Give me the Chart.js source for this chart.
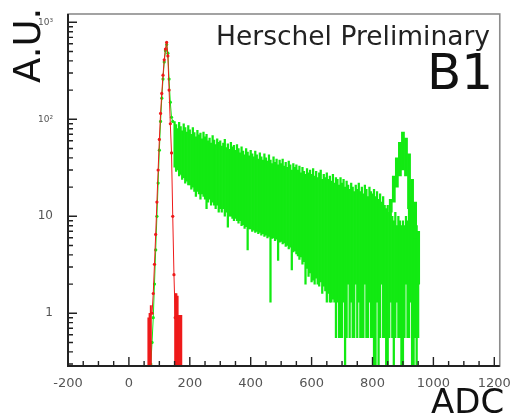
<!DOCTYPE html>
<html lang="en">
<head>
  <meta charset="UTF-8">
  <title>B1 ADC spectrum</title>
  <script src="https://cdn.jsdelivr.net/npm/chart.js"></script>
  <style>
    body { margin: 0; background: #fff; }
    #wrap { position: relative; width: 513px; height: 416px; overflow: hidden; }
    #wrap canvas { position: absolute; left: 0; top: 0; }
    .txt { position: absolute; font-family: "DejaVu Sans", sans-serif; white-space: nowrap; color: #111; }
    #yTitle { font-size: 37px; line-height: 37px; left: 9px; top: 83px; transform: rotate(-90deg); transform-origin: 0 0; }
    #xTitle { font-size: 34px; line-height: 34px; left: 431px; top: 384px; }
    #tag { font-size: 26.5px; line-height: 26.5px; left: 216px; top: 23px; color: #222; }
    #band { font-size: 50px; line-height: 50px; right: 20px; top: 47px; }
  </style>
</head>
<body>
<div id="wrap">
  <canvas id="spectrum" width="513" height="416"></canvas>
  <div class="txt" id="yTitle">A.U.</div>
  <div class="txt" id="xTitle">ADC</div>
  <div class="txt" id="tag">Herschel Preliminary</div>
  <div class="txt" id="band">B1</div>
</div>

<script>
  // green tail: 5 ADC bins, each drawn as the spread [low, high] over the pixels
  const tailBins = [
    150, 155, 160, 165, 170, 175, 180, 185, 190, 195,
    200, 205, 210, 215, 220, 225, 230, 235, 240, 245,
    250, 255, 260, 265, 270, 275, 280, 285, 290, 295,
    300, 305, 310, 315, 320, 325, 330, 335, 340, 345,
    350, 355, 360, 365, 370, 375, 380, 385, 390, 395,
    400, 405, 410, 415, 420, 425, 430, 435, 440, 445,
    450, 455, 460, 465, 470, 475, 480, 485, 490, 495,
    500, 505, 510, 515, 520, 525, 530, 535, 540, 545,
    550, 555, 560, 565, 570, 575, 580, 585, 590, 595,
    600, 605, 610, 615, 620, 625, 630, 635, 640, 645,
    650, 655, 660, 665, 670, 675, 680, 685, 690, 695,
    700, 705, 710, 715, 720, 725, 730, 735, 740, 745,
    750, 755, 760, 765, 770, 775, 780, 785, 790, 795,
    800, 805, 810, 815, 820, 825, 830, 835, 840, 845,
    850, 855, 860, 865, 870, 875, 880, 885, 890, 895,
    900, 905, 910, 915, 920, 925, 930, 935, 940, 945,
    950
  ];
  const tailHigh = [
    95, 88, 80, 93, 84, 76, 90, 82, 74, 86,
    78, 70, 82, 73, 66, 77, 69, 72, 63, 74,
    66, 70, 60, 64, 57, 68, 61, 55, 63, 58,
    60, 53, 57, 62, 51, 56, 49, 58, 52, 54,
    48, 55, 50, 45, 52, 47, 43, 50, 46, 42,
    48, 44, 41, 47, 43, 39, 45, 41, 38, 44,
    40, 37, 43, 38, 35, 41, 36, 39, 34, 38,
    35, 39, 33, 36, 32, 37, 34, 30, 35, 32,
    34, 30, 33, 28, 32, 29, 27, 31, 28, 30,
    27, 31, 26, 29, 25, 28, 30, 24, 27, 25,
    28, 24, 26, 23, 27, 22, 25, 24, 21, 25,
    22, 24, 20, 23, 21, 19, 22, 20, 18, 21,
    19, 22, 18, 20, 17, 21, 19, 16, 20, 18,
    17, 19, 16, 18, 15, 17, 14, 16, 13, 12,
    13, 11, 12, 10, 9, 11, 8, 10, 9, 8,
    9, 8, 10, 9, 14, 16, 13, 11, 9, 8,
    6
  ];
  const tailLow = [
    32, 29, 30, 26, 27, 24, 25, 22, 23, 21,
    21, 19, 20, 18, 16, 18, 17, 15, 17, 16,
    15, 12, 14, 15, 13, 14, 13, 12, 13, 11,
    12, 11, 12, 10, 11, 7.7, 10, 10, 9.5, 9,
    9.5, 9, 8.5, 9, 8, 8.2, 7.5, 7.8, 4.5, 7.4,
    7.4, 7, 7.2, 6.8, 7, 6.6, 6.8, 6.4, 6.6, 6.2,
    6.4, 6, 6.2, 1.3, 5.9, 6, 5.6, 5.8, 3.5, 5.4,
    5.5, 5.2, 5.3, 4.9, 5, 4.6, 4.8, 2.8, 4.3, 4.4,
    4.1, 3.9, 3.6, 3.8, 3.2, 3.4, 2.0, 2.9, 2.4, 2.6,
    2.1, 2.2, 2.0, 2.3, 2.0, 1.9, 2.1, 1.6, 1.9, 1.7,
    1.3, 1.6, 1.3, 1.3, 1.4, 1.3, 0.56, 1.3, 0.56, 0.56,
    0.56, 1.3, 0.28, 0.56, 2.0, 0.56, 1.3, 0.56, 0.56, 2.0,
    0.56, 1.3, 0.56, 0.56, 0.56, 2.0, 0.56, 0.56, 1.3, 0.56,
    0.56, 0.28, 0.28, 1.3, 0.28, 0.56, 2.0, 0.56, 0.56, 0.28,
    0.28, 0.56, 1.3, 0.56, 0.28, 0.56, 1.3, 0.56, 0.56, 0.28,
    0.28, 0.56, 2.0, 0.56, 0.56, 1.3, 0.28, 0.28, 0.56, 0.28,
    0.56
  ];

  // green bump near 900 ADC
  const bumpBins = [860, 870, 880, 890, 900, 910, 920, 930, 940, 950];
  const bumpHigh = [15, 26, 40, 58, 74, 64, 44, 24, 14, 7];
  const bumpLow  = [11, 14, 20, 26, 30, 26, 12, 8, 6, 2];

  // pedestal peaks (4 ADC bins)
  const redPeakBins   = [76, 80, 84, 88, 92, 96, 100, 104, 108, 112, 116, 120, 124, 128, 132, 136, 140, 144, 148, 152];
  const redPeakCounts = [1.0, 1.6, 3.2, 6.5, 14, 30, 62, 115, 185, 285, 410, 530, 620, 450, 200, 90, 45, 10, 2.5, 0.9];
  const greenPeakBins   = [72, 76, 80, 84, 88, 92, 96, 100, 104, 108, 112, 116, 120, 124, 128, 132, 136, 140, 144];
  const greenPeakCounts = [0.3, 0.5, 0.9, 2.0, 4.5, 10, 22, 48, 95, 165, 260, 390, 510, 590, 480, 260, 150, 105, 95];

  // red low-count bins with their error bars
  const redLowBins   = [64, 68, 72, 152, 156, 160, 164, 168, 172];
  const redLowTop    = [0.9, 1.0, 1.2, 1.6, 1.6, 1.5, 0.95, 0.95, 0.95];
  const redLowBottom = [0.28, 0.28, 0.28, 0.28, 0.28, 0.28, 0.28, 0.28, 0.28];

  const xTicks = [-200, 0, 200, 400, 600, 800, 1000, 1200];
  const xMinorTicks = [-150, -100, -50, 50, 100, 150, 250, 300, 350, 450, 500, 550,
                       650, 700, 750, 850, 900, 950, 1050, 1100, 1150];
  const yTicks = [1, 10, 100, 1000];
  const yMinorTicks = [0.3, 0.4, 0.5, 0.6, 0.7, 0.8, 0.9,
                       2, 3, 4, 5, 6, 7, 8, 9,
                       20, 30, 40, 50, 60, 70, 80, 90,
                       200, 300, 400, 500, 600, 700, 800, 900];
  const yLabels = { 1: '1', 10: '10', 100: '10\u00b2', 1000: '10\u00b3' };

  const RED = '#ee1a1a';
  const GREEN = '#12ea12';

  // ROOT-style frame with ticks pointing into the pad
  const frameTicks = {
    id: 'frameTicks',
    afterDraw(chart) {
      const { ctx, chartArea: a, scales: { x, y } } = chart;
      ctx.save();
      ctx.strokeStyle = '#8c8c8c';
      ctx.lineWidth = 1.6;
      ctx.strokeRect(a.left, a.top, a.right - a.left, a.bottom - a.top);
      ctx.strokeStyle = '#222';
      ctx.lineWidth = 2;
      ctx.beginPath();
      ctx.moveTo(a.left, a.top);
      ctx.lineTo(a.left, a.bottom);
      ctx.lineTo(a.right, a.bottom);
      ctx.stroke();

      ctx.lineWidth = 1.4;
      ctx.beginPath();
      xTicks.forEach(v => {
        const px = x.getPixelForValue(v);
        ctx.moveTo(px, a.bottom); ctx.lineTo(px, a.bottom - 9);
      });
      xMinorTicks.forEach(v => {
        const px = x.getPixelForValue(v);
        ctx.moveTo(px, a.bottom); ctx.lineTo(px, a.bottom - 5);
      });
      yTicks.forEach(v => {
        const py = y.getPixelForValue(v);
        ctx.moveTo(a.left, py); ctx.lineTo(a.left + 9, py);
      });
      yMinorTicks.forEach(v => {
        const py = y.getPixelForValue(v);
        ctx.moveTo(a.left, py); ctx.lineTo(a.left + 5, py);
      });
      ctx.stroke();
      ctx.restore();
    }
  };

  new Chart(document.getElementById('spectrum'), {
    type: 'bar',
    data: {
      datasets: [
        {
          type: 'line',
          data: redPeakBins.map((b, i) => ({ x: b, y: redPeakCounts[i] })),
          borderColor: RED,
          backgroundColor: RED,
          borderWidth: 1,
          pointRadius: 1.6,
          pointBorderWidth: 0
        },
        {
          data: redLowBins.map((b, i) => ({ x: b, y: [redLowBottom[i], redLowTop[i]] })),
          backgroundColor: RED,
          barThickness: 1.3,
          grouped: false
        },
        {
          type: 'line',
          data: greenPeakBins.map((b, i) => ({ x: b, y: greenPeakCounts[i] })),
          borderColor: GREEN,
          backgroundColor: GREEN,
          borderWidth: 1,
          pointRadius: 1.6,
          pointBorderWidth: 0
        },
        {
          data: bumpBins.map((b, i) => ({ x: b, y: [bumpLow[i], bumpHigh[i]] })),
          backgroundColor: GREEN,
          barThickness: 3.1,
          grouped: false
        },
        {
          data: tailBins.map((b, i) => ({ x: b, y: [tailLow[i], tailHigh[i]] })),
          backgroundColor: GREEN,
          barThickness: 1.6,
          grouped: false
        }
      ]
    },
    options: {
      responsive: false,
      animation: false,
      devicePixelRatio: 1,
      layout: { padding: { top: 14, right: 13, left: 0, bottom: 0 } },
      plugins: { legend: { display: false }, tooltip: { enabled: false } },
      scales: {
        x: {
          type: 'linear',
          min: -200,
          max: 1218,
          offset: false,
          grid: { display: false, offset: false },
          border: { display: false },
          afterFit: s => { s.height = 50; },
          afterBuildTicks: s => { s.ticks = xTicks.map(v => ({ value: v })); },
          ticks: {
            autoSkip: false,
            maxRotation: 0,
            padding: 2,
            color: '#555',
            font: { family: 'DejaVu Sans', size: 13 },
            callback: v => String(v)
          }
        },
        y: {
          type: 'logarithmic',
          min: 0.286,
          max: 1218,
          grid: { display: false },
          border: { display: false },
          afterFit: s => { s.width = 68; },
          afterBuildTicks: s => { s.ticks = yTicks.map(v => ({ value: v })); },
          ticks: {
            padding: 7,
            color: '#555',
            font: c => ({ family: 'DejaVu Sans', size: c.tick && c.tick.value >= 100 ? 9 : 12 }),
            callback: v => yLabels[v] || ''
          }
        }
      }
    },
    plugins: [frameTicks]
  });
</script>
</body>
</html>
